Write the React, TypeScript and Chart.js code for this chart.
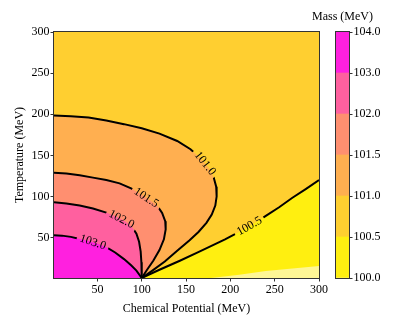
import React, { useEffect, useRef } from 'react';
import { Chart, registerables } from 'chart.js';
Chart.register(...registerables);

// ---- data ----
const X_MIN = 1;
const X_MAX = 300;
const Y_MIN = 1;
const Y_MAX = 300;
const X_TICKS = [50, 100, 150, 200, 250, 300];
const Y_TICKS = [50, 100, 150, 200, 250, 300];
const LEVEL_LABELS = ['100.0', '100.5', '101.0', '101.5', '102.0', '103.0', '104.0'];
const LEVEL_COLORS = [
  'rgb(255,239,16)',
  'rgb(255,207,48)',
  'rgb(255,175,80)',
  'rgb(255,143,112)',
  'rgb(255,96,159)',
  'rgb(255,32,223)',
];
const BELOW_COLOR = 'rgb(254,246,150)';

// contour lines (Chemical Potential, Temperature)
const C100: number[][] = [[178, 1], [210, 5], [240, 9.5], [270, 12.5], [300, 15.5]];
const C1005: number[][] = [
  [100, 1], [120, 11], [143, 22], [165, 33], [194, 48], [210, 57], [225, 66],
  [240, 76.5], [255, 87], [270, 98.5], [285, 109], [300, 120],
];
const C101: number[][] = [
  [1, 198.5], [20, 197.5], [40, 196], [60, 192.5], [80, 188], [100, 183], [120, 176.5],
  [140, 167.5], [155, 157.5], [167, 146], [176, 134], [181, 124], [184, 112], [184.5, 100],
  [183, 89], [179, 78], [173, 68], [164, 57], [154, 47], [140, 34], [126, 21], [112, 10], [100, 1],
];
const C1015: number[][] = [
  [1, 129], [15, 128], [30, 126], [45, 123], [60, 120], [75, 116], [88, 110], [100, 102],
  [110, 95], [118, 88], [123, 80], [126.5, 70], [127, 60], [125, 48], [120, 35], [113, 22],
  [106, 11], [100, 1],
];
const C102: number[][] = [
  [1, 93], [15, 91.5], [30, 89], [45, 85.5], [60, 80.5], [72, 75], [82, 69.5], [89, 63],
  [94, 55], [97, 45], [98.8, 33], [99.6, 20], [100, 1],
];
const C103: number[][] = [
  [1, 53], [10, 52.5], [20, 51], [30, 48.5], [40, 46], [50, 42.5], [60, 38.5], [70, 32],
  [80, 24], [88, 16.5], [94, 10], [100, 1],
];

// contour labels
const LABEL_TEXT = ['103.0', '102.0', '101.5', '101.0', '100.5'];
const LABEL_X = [45, 78, 106, 171, 221];
const LABEL_Y = [45, 74, 100, 140, 65];
const LABEL_CONTOUR = [C103, C102, C1015, C101, C1005];

const FONT_FAMILY = '"Liberation Serif", "Times New Roman", serif';
const LABEL_FONT = '12px ' + FONT_FAMILY;

const toPts = (a: number[][]) => a.map(([x, y]) => ({ x, y }));

function labelGeometry(chart: any) {
  const xs = chart.scales.x;
  const ys = chart.scales.y;
  const ctx = chart.ctx;
  ctx.save();
  ctx.font = LABEL_FONT;
  const out = LABEL_TEXT.map((t, i) => {
    const line = LABEL_CONTOUR[i];
    const ax = xs.getPixelForValue(LABEL_X[i]);
    const ay = ys.getPixelForValue(LABEL_Y[i]);
    let best = { d: Infinity, px: ax, py: ay, ang: 0 };
    for (let k = 0; k < line.length - 1; k++) {
      const x1 = xs.getPixelForValue(line[k][0]);
      const y1 = ys.getPixelForValue(line[k][1]);
      const x2 = xs.getPixelForValue(line[k + 1][0]);
      const y2 = ys.getPixelForValue(line[k + 1][1]);
      const dx = x2 - x1;
      const dy = y2 - y1;
      const L2 = dx * dx + dy * dy;
      let u = L2 ? ((ax - x1) * dx + (ay - y1) * dy) / L2 : 0;
      u = Math.max(0, Math.min(1, u));
      const px = x1 + u * dx;
      const py = y1 + u * dy;
      const d = (px - ax) ** 2 + (py - ay) ** 2;
      if (d < best.d) {
        let ang = Math.atan2(dy, dx);
        if (ang > Math.PI / 2) ang -= Math.PI;
        if (ang < -Math.PI / 2) ang += Math.PI;
        best = { d, px, py, ang };
      }
    }
    return { text: t, x: best.px, y: best.py, ang: best.ang, w: ctx.measureText(t).width };
  });
  ctx.restore();
  return out;
}

const contourPlugin = {
  id: 'contourExtras',
  beforeDatasetsDraw(chart: any) {
    const { ctx, chartArea: a } = chart;
    ctx.save();
    ctx.fillStyle = LEVEL_COLORS[1];
    ctx.fillRect(a.left, a.top, a.right - a.left, a.bottom - a.top);
    ctx.restore();
    chart.$labels = labelGeometry(chart);
  },
  beforeDatasetDraw(chart: any, args: any) {
    const ds = chart.data.datasets[args.index];
    if (!ds.isContour) return;
    const ctx = chart.ctx;
    ctx.save();
    ctx.beginPath();
    ctx.rect(0, 0, chart.width, chart.height);
    (chart.$labels || []).forEach((l: any) => {
      const hw = l.w / 2 + 3;
      const hh = 6;
      const c = Math.cos(l.ang);
      const s = Math.sin(l.ang);
      const pts = [[-hw, -hh], [hw, -hh], [hw, hh], [-hw, hh]].map(([u, v]) => [
        l.x + u * c - v * s,
        l.y + u * s + v * c,
      ]);
      ctx.moveTo(pts[0][0], pts[0][1]);
      for (let k = 1; k < 4; k++) ctx.lineTo(pts[k][0], pts[k][1]);
      ctx.closePath();
    });
    ctx.clip('evenodd');
  },
  afterDatasetDraw(chart: any, args: any) {
    const ds = chart.data.datasets[args.index];
    if (!ds.isContour) return;
    chart.ctx.restore();
  },
  afterDatasetsDraw(chart: any) {
    const ctx = chart.ctx;
    const a = chart.chartArea;
    (chart.$labels || []).forEach((l: any) => {
      ctx.save();
      ctx.translate(l.x, l.y);
      ctx.rotate(l.ang);
      ctx.font = LABEL_FONT;
      ctx.fillStyle = '#000';
      ctx.textAlign = 'center';
      ctx.textBaseline = 'middle';
      ctx.fillText(l.text, 0, 0);
      ctx.restore();
    });
    ctx.save();
    ctx.strokeStyle = '#333';
    ctx.lineWidth = 1;
    ctx.strokeRect(Math.round(a.left) - 0.5, Math.round(a.top) - 0.5, Math.round(a.right - a.left) + 1, Math.round(a.bottom - a.top) + 1);
    ctx.restore();
  },
};

const colorbarPlugin = {
  id: 'colorbarExtras',
  afterDraw(chart: any) {
    const ctx = chart.ctx;
    const a = chart.chartArea;
    ctx.save();
    ctx.strokeStyle = '#333';
    ctx.lineWidth = 1;
    ctx.strokeRect(Math.round(a.left) - 0.5, Math.round(a.top) - 0.5, Math.round(a.right - a.left) + 1, Math.round(a.bottom - a.top) + 1);
    ctx.fillStyle = '#000';
    ctx.font = '12px ' + FONT_FAMILY;
    ctx.textAlign = 'center';
    ctx.textBaseline = 'middle';
    ctx.fillText('Mass (MeV)', (a.left + a.right) / 2, 17);
    ctx.restore();
  },
};

export default function App() {
  const mainRef = useRef<HTMLCanvasElement>(null);
  const cbRef = useRef<HTMLCanvasElement>(null);

  useEffect(() => {
    if (!mainRef.current || !cbRef.current) return;
    const fills = [
      { pts: [...C1005, [X_MAX, Y_MIN]], color: LEVEL_COLORS[0] },
      { pts: [...C100, [X_MAX, Y_MIN]], color: BELOW_COLOR },
      { pts: [...C101, [X_MIN, Y_MIN]], color: LEVEL_COLORS[2] },
      { pts: [...C1015, [X_MIN, Y_MIN]], color: LEVEL_COLORS[3] },
      { pts: [...C102, [X_MIN, Y_MIN]], color: LEVEL_COLORS[4] },
      { pts: [...C103, [X_MIN, Y_MIN]], color: LEVEL_COLORS[5] },
    ];
    const lines = [C1005, C101, C1015, C102, C103];
    const datasets: any[] = [];
    fills.forEach((f) =>
      datasets.push({
        data: toPts(f.pts),
        fill: 'shape',
        backgroundColor: f.color,
        borderColor: 'rgba(0,0,0,0)',
        borderWidth: 0,
        pointRadius: 0,
        tension: 0,
      })
    );
    lines.forEach((l) =>
      datasets.push({
        data: toPts(l),
        fill: false,
        borderColor: '#000',
        borderWidth: 2,
        pointRadius: 0,
        tension: 0,
        isContour: true,
      })
    );
    const N = datasets.length;
    datasets.forEach((d, i) => (d.order = N - i));

    const tickFont = { family: FONT_FAMILY, size: 12 };
    const main = new Chart(mainRef.current, {
      type: 'line',
      data: { datasets },
      options: {
        animation: false,
        responsive: false,
        events: [],
        layout: { padding: { left: 0, top: 32, right: 80, bottom: 0 } },
        plugins: { legend: { display: false }, tooltip: { enabled: false } },
        scales: {
          x: {
            type: 'linear',
            min: X_MIN,
            max: X_MAX,
            afterBuildTicks: (s: any) => {
              s.ticks = X_TICKS.map((v) => ({ value: v }));
            },
            afterFit: (s: any) => {
              s.height = 48;
            },
            ticks: { font: tickFont, color: '#000', padding: 1, maxRotation: 0, autoSkip: false },
            grid: { drawOnChartArea: false, tickLength: 3.5, color: '#333' },
            border: { display: false },
            title: {
              display: true,
              text: 'Chemical Potential (MeV)',
              font: tickFont,
              color: '#000',
              padding: { top: 0, bottom: 10 },
            },
          },
          y: {
            type: 'linear',
            min: Y_MIN,
            max: Y_MAX,
            afterBuildTicks: (s: any) => {
              s.ticks = Y_TICKS.map((v) => ({ value: v }));
            },
            afterFit: (s: any) => {
              s.width = 54;
            },
            ticks: { font: tickFont, color: '#000', padding: 1, autoSkip: false },
            grid: { drawOnChartArea: false, tickLength: 3.5, color: '#333' },
            border: { display: false },
            title: {
              display: true,
              text: 'Temperature (MeV)',
              font: tickFont,
              color: '#000',
              padding: { top: 13, bottom: 0 },
            },
          },
        },
      } as any,
      plugins: [contourPlugin],
    });

    const cb = new Chart(cbRef.current, {
      type: 'bar',
      data: {
        labels: [''],
        datasets: LEVEL_COLORS.map((c) => ({
          data: [1],
          backgroundColor: c,
          borderWidth: 0,
          barPercentage: 1,
          categoryPercentage: 1,
        })),
      },
      options: {
        animation: false,
        responsive: false,
        events: [],
        layout: { padding: { left: 336, top: 32, right: 0, bottom: 48 } },
        plugins: { legend: { display: false }, tooltip: { enabled: false } },
        scales: {
          x: { display: false, stacked: true },
          y: {
            stacked: true,
            position: 'right',
            min: 0,
            max: LEVEL_LABELS.length - 1,
            afterBuildTicks: (s: any) => {
              s.ticks = LEVEL_LABELS.map((_, i) => ({ value: i }));
            },
            afterFit: (s: any) => {
              s.width = 50;
            },
            ticks: {
              font: tickFont,
              color: '#000',
              padding: 1,
              autoSkip: false,
              callback: (_v: any, i: number) => LEVEL_LABELS[i],
            },
            grid: { drawOnChartArea: false, tickLength: 3.5, color: '#333' },
            border: { display: false },
          },
        },
      } as any,
      plugins: [colorbarPlugin],
    });

    return () => {
      main.destroy();
      cb.destroy();
    };
  }, []);

  return (
    <div style={{ position: 'absolute', left: 0, top: 0, width: 399, height: 326, background: '#fff' }}>
      <canvas ref={mainRef} width={399} height={326} style={{ position: 'absolute', left: 0, top: 0 }} />
      <canvas ref={cbRef} width={399} height={326} style={{ position: 'absolute', left: 0, top: 0 }} />
    </div>
  );
}
